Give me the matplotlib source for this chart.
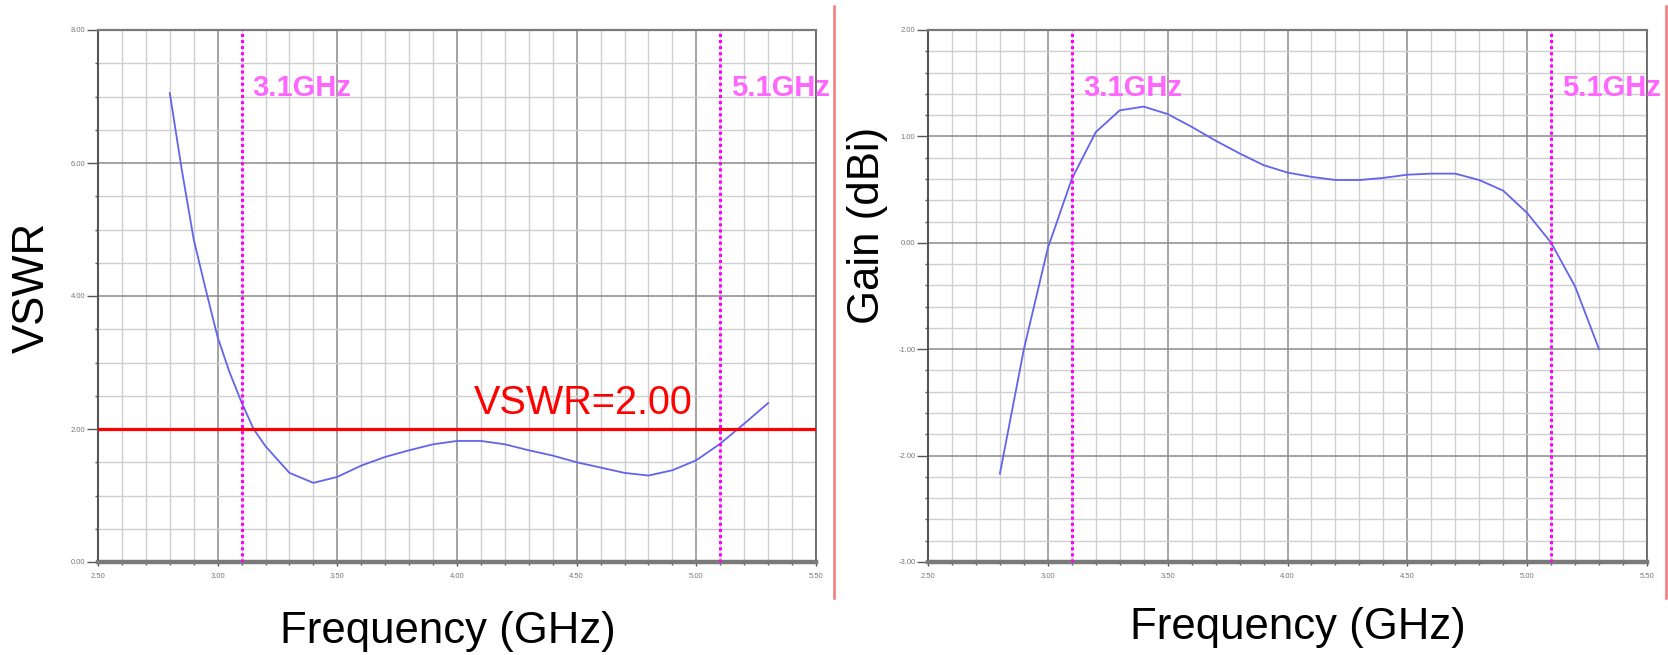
import matplotlib
matplotlib.use("Agg")
import matplotlib.pyplot as plt
from matplotlib.lines import Line2D
from matplotlib.ticker import MultipleLocator, FormatStrFormatter

## data
vswr_freq = [2.80, 2.85, 2.90, 2.95, 3.00, 3.05, 3.10, 3.15, 3.20, 3.30, 3.40, 3.50,
             3.60, 3.70, 3.80, 3.90, 4.00, 4.10, 4.20, 4.30, 4.40, 4.50, 4.60,
             4.70, 4.80, 4.90, 5.00, 5.10, 5.20, 5.30]
vswr_value = [7.05, 5.90, 4.85, 4.10, 3.38, 2.85, 2.40, 2.00, 1.74, 1.34, 1.19, 1.28,
              1.45, 1.58, 1.68, 1.77, 1.82, 1.82, 1.77, 1.68, 1.60, 1.50, 1.42,
              1.34, 1.30, 1.38, 1.53, 1.78, 2.08, 2.39]

gain_freq = [2.8, 2.9, 3.0, 3.1, 3.2, 3.3, 3.4, 3.5, 3.6, 3.7, 3.8, 3.9, 4.0,
             4.1, 4.2, 4.3, 4.4, 4.5, 4.6, 4.7, 4.8, 4.9, 5.0, 5.1, 5.2, 5.3]
gain_value = [-2.17, -1.00, -0.05, 0.60, 1.04, 1.245, 1.28, 1.21, 1.09, 0.96, 0.84,
              0.73, 0.66, 0.62, 0.59, 0.59, 0.61, 0.64, 0.65, 0.65, 0.59, 0.49,
              0.28, 0.00, -0.41, -1.00]

band_edges = [3.1, 5.1]
band_labels = ["3.1GHz", "5.1GHz"]
vswr_limit = 2.00

## parameters
W, H = 1668, 655
curve_color = "#6363ee"
marker_color = "#ff00ff"
marker_text_color = "#ff66ff"
plt.rcParams['font.family'] = ['Liberation Sans', 'DejaVu Sans']


def style_axis(ax, ylim, ymajor, yminor):
    """
    grid, ticks and spines in the look of the simulator plots
    """

    ax.set_xlim(2.5, 5.5)
    ax.set_ylim(*ylim)
    ax.xaxis.set_major_locator(MultipleLocator(0.5))
    ax.xaxis.set_minor_locator(MultipleLocator(0.1))
    ax.yaxis.set_major_locator(MultipleLocator(ymajor))
    ax.yaxis.set_minor_locator(MultipleLocator(yminor))
    ax.xaxis.set_major_formatter(FormatStrFormatter("%.2f"))
    ax.yaxis.set_major_formatter(FormatStrFormatter("%.2f"))

    ## grid
    ax.grid(which='major', color='#8a8a8a', lw=1.1)
    ax.grid(which='minor', color='#cfcfcf', lw=1.0)
    ax.set_axisbelow(True)

    ## ticks
    ax.tick_params(axis='both', which='both', colors='#555555', labelcolor='#777777',
                   labelsize=5.5)
    ax.tick_params(axis='y', which='major', length=8, width=1.0, pad=1)
    ax.tick_params(axis='y', which='minor', length=2.5, width=1.0)
    ax.tick_params(axis='x', which='major', length=3, width=1.0, pad=5)
    ax.tick_params(axis='x', which='minor', length=2.5, width=1.0)

    ## spines
    ax.spines['left'].set_color('#555555')
    ax.spines['left'].set_linewidth(1.5)
    ax.spines['right'].set_color('#666666')
    ax.spines['right'].set_linewidth(1.3)
    ax.spines['top'].set_color('#7a7a7a')
    ax.spines['top'].set_linewidth(1.6)
    ax.spines['bottom'].set_color('#7a7a7a')
    ax.spines['bottom'].set_linewidth(3.2)


def band_markers(ax):
    """
    dotted band edge lines with their labels
    """

    for f, lab in zip(band_edges, band_labels):
        ax.axvline(f, color=marker_color, lw=2.2, ls=(0, (1, 1)), zorder=4)
        ax.annotate(lab, xy=(f, 0.876), xycoords=('data', 'axes fraction'),
                    xytext=(8, 0), textcoords='offset points',
                    color=marker_text_color, fontsize=21, fontweight='bold',
                    va='baseline', ha='left', annotation_clip=False, zorder=5)


## figure
fig = plt.figure(figsize=(W / 100, H / 100), dpi=100)
ax1 = fig.add_axes([98 / W, (H - 562) / H, 718 / W, 532 / H])
ax2 = fig.add_axes([928 / W, (H - 562) / H, 719 / W, 532 / H])

## VSWR
style_axis(ax1, (0, 8), 2.0, 0.5)
ax1.plot(vswr_freq, vswr_value, color=curve_color, lw=1.3, zorder=3)
ax1.axhline(vswr_limit, color='#ff0000', lw=2.3, zorder=4)
ax1.annotate("VSWR=%.2f" % vswr_limit, xy=(4.07, vswr_limit), xycoords='data',
             xytext=(0, 11), textcoords='offset points',
             color='#ff0000', fontsize=28.5, va='baseline', ha='left')
band_markers(ax1)

## Gain
style_axis(ax2, (-3, 2), 1.0, 0.2)
ax2.plot(gain_freq, gain_value, color=curve_color, lw=1.3, zorder=3)
band_markers(ax2)

## axis titles
fig.text(32 / W, 1 - 287 / H, "VSWR", rotation=90, fontsize=31.5,
         ha='center', va='center')
fig.text(867 / W, 1 - 225 / H, "Gain (dBi)", rotation=90, fontsize=31.5,
         ha='center', va='center')
fig.text(448 / W, 1 - 632 / H, "Frequency (GHz)", fontsize=31.5,
         ha='center', va='center')
fig.text(1298 / W, 1 - 627 / H, "Frequency (GHz)", fontsize=31.5,
         ha='center', va='center')

## panel separators
for xs in [834, 1666]:
    fig.add_artist(Line2D([xs / W, xs / W], [1 - 6 / H, 1 - 598 / H],
                          color='#f07a7a', lw=1.8))

fig.savefig("out.png", dpi=100)
